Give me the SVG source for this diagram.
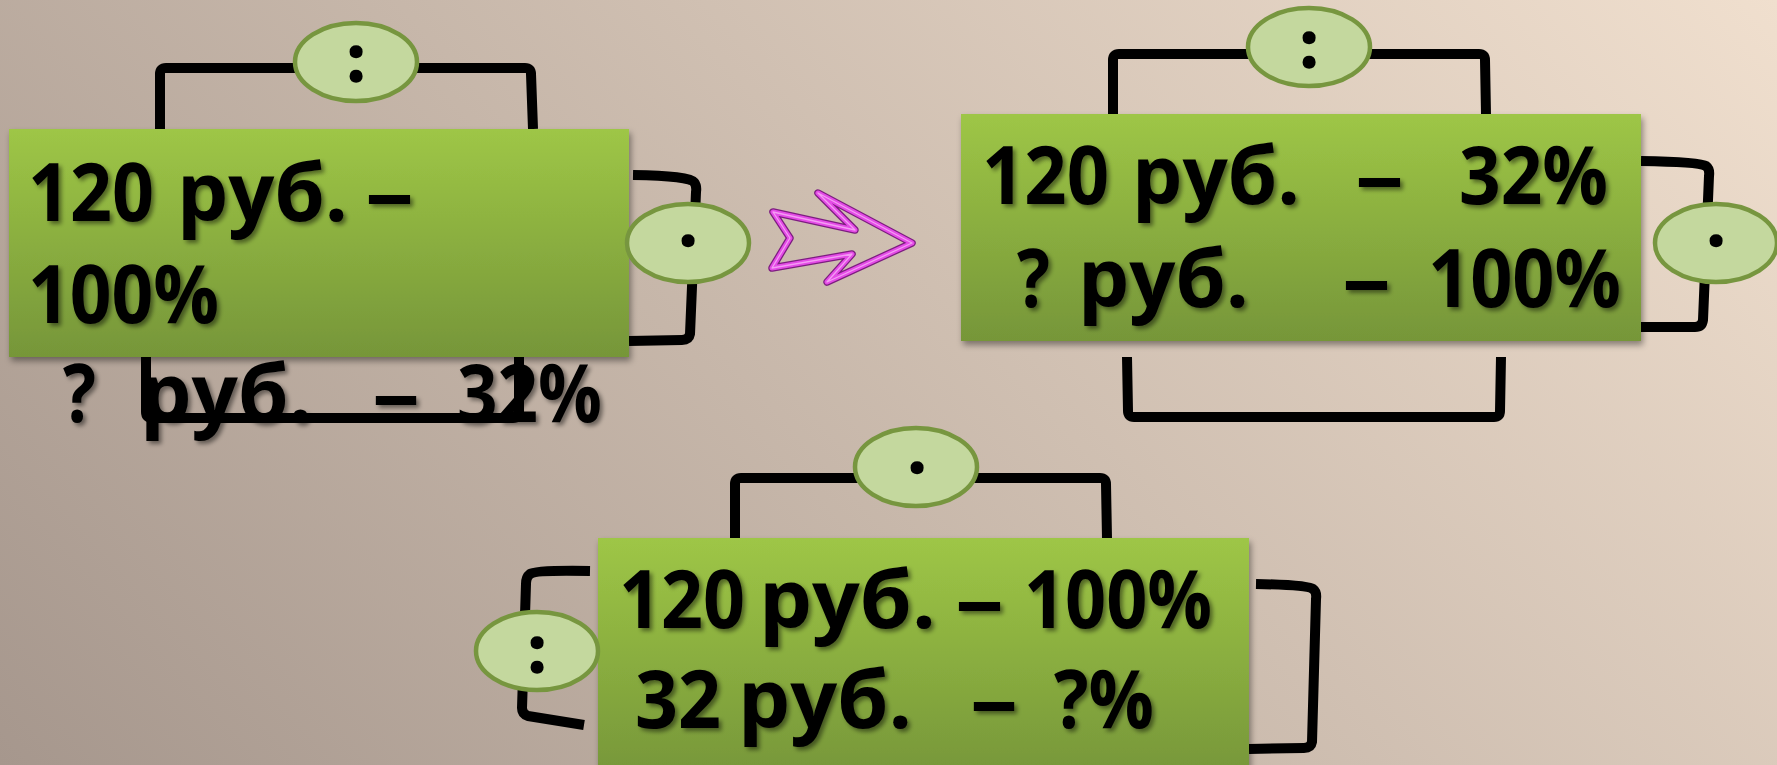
<svg xmlns="http://www.w3.org/2000/svg" width="1777" height="765" viewBox="0 0 1777 765">
<style>
.br{fill:none;stroke:#000;stroke-width:10;stroke-linejoin:round;stroke-linecap:butt}
.box{fill:url(#gb);filter:url(#bs)}
.op{fill:#c4d89e;stroke:#77963f;stroke-width:4.5}
.t{font-family:"Open Sans","Noto Sans","DejaVu Sans",sans-serif;font-weight:700;font-size:80px;fill:#000;filter:url(#ts)}
.s{font-family:"Open Sans","Noto Sans","DejaVu Sans",sans-serif;font-weight:700;font-size:62px;fill:#000;stroke:#000;stroke-width:2.5;text-anchor:middle}
</style>
<defs>
<linearGradient id="bg" gradientUnits="userSpaceOnUse" x1="0" y1="765" x2="1335" y2="-475">
<stop offset="0" stop-color="#a6978d"/>
<stop offset="1" stop-color="#f0dfce"/>
</linearGradient>
<linearGradient id="gb" x1="0" y1="0" x2="0" y2="1">
<stop offset="0" stop-color="#9ec646"/>
<stop offset="1" stop-color="#769639"/>
</linearGradient>
<filter id="bs" x="-5%" y="-5%" width="112%" height="115%">
<feDropShadow dx="2" dy="4" stdDeviation="3" flood-color="#000" flood-opacity="0.4"/>
</filter>
<filter id="ts" x="-5%" y="-10%" width="115%" height="130%">
<feDropShadow dx="3" dy="3" stdDeviation="2" flood-color="#000" flood-opacity="0.45"/>
</filter>
</defs>
<rect width="1777" height="765" fill="url(#bg)"/>
<g id="connectors">
<path class="br" d="M160,129 V74 Q160,68 166,68 H525 Q531,68 531,74 L533,129"/>
<path class="br" d="M633,175 Q690,176 694,182 Q697,186 696,192 L690,334 Q689,340 682,340 L629,341"/>
<path class="br" d="M146,357 V412 Q146,418 152,418 H513 Q519,418 519,412 V357"/>
<path class="br" d="M1113,114 V60 Q1113,54 1119,54 H1479 Q1485,54 1485,60 L1486,114"/>
<path class="br" d="M1641,161 Q1700,162 1706,166 Q1710,169 1709,176 L1703,320 Q1702,327 1695,327 L1641,327"/>
<path class="br" d="M1127,357 L1128,411 Q1128,417 1134,417 H1494 Q1500,417 1500,411 L1501,357"/>
<path class="br" d="M735,538 V484 Q735,478 741,478 H1100 Q1106,478 1106,484 L1107,538"/>
<path class="br" d="M590,571 Q535,570 530,574 Q526,577 526,584 L522,708 Q522,714 528,716 L584,725"/>
<path class="br" d="M1256,584 Q1308,585 1313,589 Q1317,592 1316,599 L1312,742 Q1311,748 1304,748 L1249,749"/>
<g id="arrow" fill="none" stroke-linejoin="round">
<polygon points="818,193 912,243 827,282 852,254 772,268 790,238 773,212 855,230" stroke="#7d1d80" stroke-width="7.5"/>
<polygon points="818,193 912,243 827,282 852,254 772,268 790,238 773,212 855,230" stroke="#e44be6" stroke-width="5"/>
<polygon points="818,193 912,243 827,282 852,254 772,268 790,238 773,212 855,230" stroke="#f49cf4" stroke-width="1.3"/>
</g>
</g>
<g id="box1">
<rect class="box" x="9" y="129" width="620" height="228"/>
<text class="t" y="221"><tspan x="28" textLength="126" lengthAdjust="spacingAndGlyphs">120</tspan> <tspan x="177" textLength="171" lengthAdjust="spacingAndGlyphs">руб.</tspan> <tspan x="365" textLength="49" lengthAdjust="spacingAndGlyphs">–</tspan></text>
<text class="t" y="323"><tspan x="28" textLength="191" lengthAdjust="spacingAndGlyphs">100%</tspan></text>
<text class="t" y="422"><tspan x="63" textLength="33" lengthAdjust="spacingAndGlyphs">?</tspan> <tspan x="140" textLength="172" lengthAdjust="spacingAndGlyphs">руб.</tspan> <tspan x="372" textLength="48" lengthAdjust="spacingAndGlyphs">–</tspan> <tspan x="457" textLength="145" lengthAdjust="spacingAndGlyphs">32%</tspan></text>
</g>
<g id="box2">
<rect class="box" x="961" y="114" width="680" height="227"/>
<text class="t" y="204"><tspan x="982" textLength="127" lengthAdjust="spacingAndGlyphs">120</tspan> <tspan x="1132" textLength="168" lengthAdjust="spacingAndGlyphs">руб.</tspan> <tspan x="1355" textLength="49" lengthAdjust="spacingAndGlyphs">–</tspan> <tspan x="1459" textLength="149" lengthAdjust="spacingAndGlyphs">32%</tspan></text>
<text class="t" y="307"><tspan x="1017" textLength="33" lengthAdjust="spacingAndGlyphs">?</tspan> <tspan x="1078" textLength="171" lengthAdjust="spacingAndGlyphs">руб.</tspan> <tspan x="1342" textLength="49" lengthAdjust="spacingAndGlyphs">–</tspan> <tspan x="1428" textLength="193" lengthAdjust="spacingAndGlyphs">100%</tspan></text>
</g>
<g id="box3">
<rect class="box" x="598" y="538" width="651" height="240"/>
<text class="t" y="628"><tspan x="619" textLength="126" lengthAdjust="spacingAndGlyphs">120</tspan> <tspan x="759" textLength="177" lengthAdjust="spacingAndGlyphs">руб.</tspan> <tspan x="955" textLength="49" lengthAdjust="spacingAndGlyphs">–</tspan> <tspan x="1024" textLength="188" lengthAdjust="spacingAndGlyphs">100%</tspan></text>
<text class="t" y="728"><tspan x="635" textLength="86" lengthAdjust="spacingAndGlyphs">32</tspan> <tspan x="738" textLength="174" lengthAdjust="spacingAndGlyphs">руб.</tspan> <tspan x="970" textLength="48" lengthAdjust="spacingAndGlyphs">–</tspan> <tspan x="1054" textLength="100" lengthAdjust="spacingAndGlyphs">?%</tspan></text>
</g>
<g id="op1"><ellipse class="op" cx="356" cy="62" rx="61" ry="39"/><text class="s" x="356" y="81">:</text></g>
<g id="op2"><ellipse class="op" cx="688" cy="243" rx="61" ry="39"/><text class="s" x="688" y="263">·</text></g>
<g id="op3"><ellipse class="op" cx="1309" cy="47" rx="61" ry="39"/><text class="s" x="1309" y="67">:</text></g>
<g id="op4"><ellipse class="op" cx="1716" cy="243" rx="61" ry="39"/><text class="s" x="1716" y="263">·</text></g>
<g id="op5"><ellipse class="op" cx="916" cy="467" rx="61" ry="39"/><text class="s" x="917" y="490">·</text></g>
<g id="op6"><ellipse class="op" cx="537" cy="651" rx="61" ry="39"/><text class="s" x="537" y="672">:</text></g>
</svg>
